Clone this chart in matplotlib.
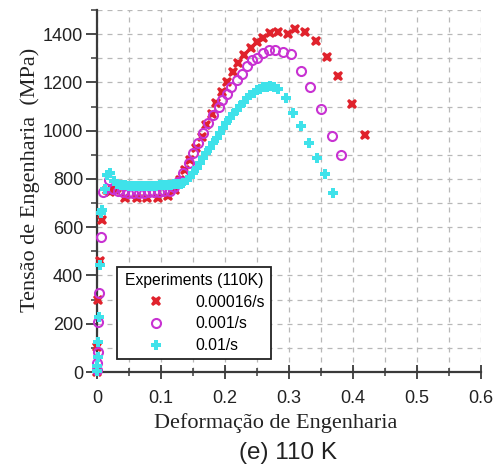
import matplotlib
matplotlib.use("Agg")
import matplotlib.pyplot as plt
from matplotlib.ticker import MultipleLocator, FixedLocator

# ---- data ----
x_red = [0.000, 0.0005, 0.002, 0.004, 0.008, 0.015, 0.020, 0.028, 0.031, 0.044,
         0.062, 0.078, 0.096, 0.111, 0.122, 0.130, 0.1375, 0.145, 0.155, 0.164,
         0.170, 0.179, 0.186, 0.195, 0.203, 0.212, 0.221, 0.230, 0.241, 0.250,
         0.260, 0.270, 0.283, 0.299, 0.310, 0.325, 0.342, 0.360, 0.377, 0.398, 0.418]
y_red = [0, 105, 300, 460, 630, 754, 747, 754, 761, 722,
         720, 722, 722, 729, 754, 795, 837, 878, 927, 975,
         1023, 1069, 1113, 1161, 1203, 1244, 1281, 1313, 1344, 1368,
         1386, 1403, 1410, 1399, 1420, 1410, 1372, 1306, 1226, 1110, 982]

x_mag = [0.000, 0.0005, 0.001, 0.002, 0.003, 0.006, 0.010, 0.018, 0.025, 0.033,
         0.041, 0.049, 0.057, 0.065, 0.073, 0.081, 0.089, 0.097, 0.105, 0.114,
         0.120, 0.127, 0.135, 0.143, 0.150, 0.158, 0.166, 0.174, 0.182, 0.190,
         0.196, 0.203, 0.210, 0.218, 0.226, 0.234, 0.242, 0.250, 0.259, 0.268,
         0.278, 0.290, 0.303, 0.319, 0.333, 0.350, 0.367, 0.382]
y_mag = [10, 37, 84, 208, 329, 558, 747, 795, 760, 750,
         746, 742, 740, 742, 742, 744, 744, 746, 748, 750,
         765, 788, 823, 865, 906, 947, 989, 1030, 1065, 1099,
         1127, 1154, 1182, 1212, 1234, 1268, 1292, 1303, 1320, 1334,
         1334, 1327, 1316, 1248, 1179, 1089, 978, 899]

x_cyan = [0.000, 0.0003, 0.0008, 0.0015, 0.003, 0.005, 0.007, 0.008, 0.012, 0.015,
          0.020, 0.026, 0.032, 0.038, 0.044, 0.050, 0.056, 0.062, 0.068, 0.074,
          0.080, 0.086, 0.092, 0.098, 0.104, 0.110, 0.116, 0.121, 0.126, 0.131,
          0.135, 0.140, 0.145, 0.150, 0.156, 0.161, 0.166, 0.171, 0.177, 0.182,
          0.187, 0.192, 0.197, 0.202, 0.208, 0.213, 0.218, 0.223, 0.229, 0.234,
          0.239, 0.245, 0.250, 0.255, 0.260, 0.265, 0.270, 0.276, 0.283, 0.295,
          0.306, 0.318, 0.331, 0.344, 0.356, 0.369]
y_cyan = [3, 23, 63, 125, 229, 443, 657, 671, 760, 816,
          823, 790, 780, 775, 773, 772, 772, 772, 772, 772,
          772, 772, 772, 773, 773, 774, 775, 777, 779, 781,
          782, 795, 809, 826, 844, 864, 885, 906, 927, 948,
          968, 990, 1010, 1030, 1051, 1068, 1085, 1103, 1120, 1134,
          1147, 1158, 1168, 1174, 1179, 1183, 1185, 1180, 1171, 1134,
          1074, 1019, 950, 888, 820, 743]

labels = ["0.00016/s", "0.001/s", "0.01/s"]
legend_title = "Experiments (110K)"
xticks = [0, 0.1, 0.2, 0.3, 0.4, 0.5, 0.6]
xticklabels = ["0", "0.1", "0.2", "0.3", "0.4", "0.5", "0.6"]
yticks = [0, 200, 400, 600, 800, 1000, 1200, 1400]

red = "#e0222c"
mag = "#c832d2"
cyan = "#3fe2ea"

W, H = 496, 469
fig = plt.figure(figsize=(W / 100, H / 100), dpi=100)
ax = fig.add_axes([97 / W, 97 / H, 384 / W, 362 / H])

sans = ["Liberation Sans", "DejaVu Sans"]
serif = ["Liberation Serif", "DejaVu Serif"]

ax.plot(x_red, y_red, linestyle="none", marker="X", markersize=7.5,
        color=red, markeredgewidth=0, label=labels[0], clip_on=False, zorder=3)
ax.plot(x_mag, y_mag, linestyle="none", marker="o", markersize=6.5,
        markerfacecolor="none", markeredgecolor=mag, markeredgewidth=1.5,
        label=labels[1], clip_on=False, zorder=3)
ax.plot(x_cyan, y_cyan, linestyle="none", marker="P", markersize=7.5,
        color=cyan, markeredgewidth=0, label=labels[2], clip_on=False, zorder=4)

ax.set_xlim(0, 0.6)
ax.set_ylim(0, 1500)

ax.xaxis.set_major_locator(FixedLocator(xticks))
ax.xaxis.set_minor_locator(MultipleLocator(0.05))
ax.yaxis.set_major_locator(FixedLocator(yticks))
ax.yaxis.set_minor_locator(MultipleLocator(100))
ax.set_xticklabels(xticklabels)

ax.grid(True, which="both", linestyle=(0, (4, 4)), color="#b8b8b8", linewidth=0.9)
ax.set_axisbelow(True)

for s in ["top", "right"]:
    ax.spines[s].set_visible(False)
for s in ["left", "bottom"]:
    ax.spines[s].set_color("#3a3a3a")
    ax.spines[s].set_linewidth(1.6)

ax.tick_params(axis="y", which="major", direction="out", length=8, width=1.3,
               color="#3a3a3a", labelsize=13, pad=2, labelcolor="#222222")
ax.tick_params(axis="y", which="minor", direction="out", length=4, width=1.1,
               color="#3a3a3a")
ax.tick_params(axis="x", which="major", direction="inout", length=10, width=1.3,
               color="#3a3a3a", labelsize=13, pad=8, labelcolor="#222222")
ax.tick_params(axis="x", which="minor", direction="inout", length=6, width=1.1,
               color="#3a3a3a")
for lab in ax.get_xticklabels() + ax.get_yticklabels():
    lab.set_fontfamily(sans)

leg = ax.legend(title=legend_title, loc="upper left",
                bbox_to_anchor=((117 - 97) / 384, (372 - 267) / 362),
                prop={"family": sans, "size": 11.3},
                title_fontproperties={"family": sans, "size": 11.3},
                frameon=True, fancybox=False, framealpha=1, edgecolor="#222222",
                borderpad=0.4, labelspacing=0.42, handletextpad=0.4,
                handlelength=4.2, borderaxespad=0)
leg.get_frame().set_linewidth(1.3)

fig.text(276 / W, 1 - 423 / H, "Deformação de Engenharia", ha="center", va="center",
         fontsize=16, family=serif, color="#222222")
fig.text(30 / W, 1 - 180 / H, "Tensão de Engenharia  (MPa)", ha="center", va="center",
         rotation=90, fontsize=16, family=serif, color="#222222")
fig.text(288 / W, 1 - 453 / H, "(e) 110 K", ha="center", va="center",
         fontsize=17.5, family=sans, color="#222222")

fig.savefig("out.png", dpi=100)
